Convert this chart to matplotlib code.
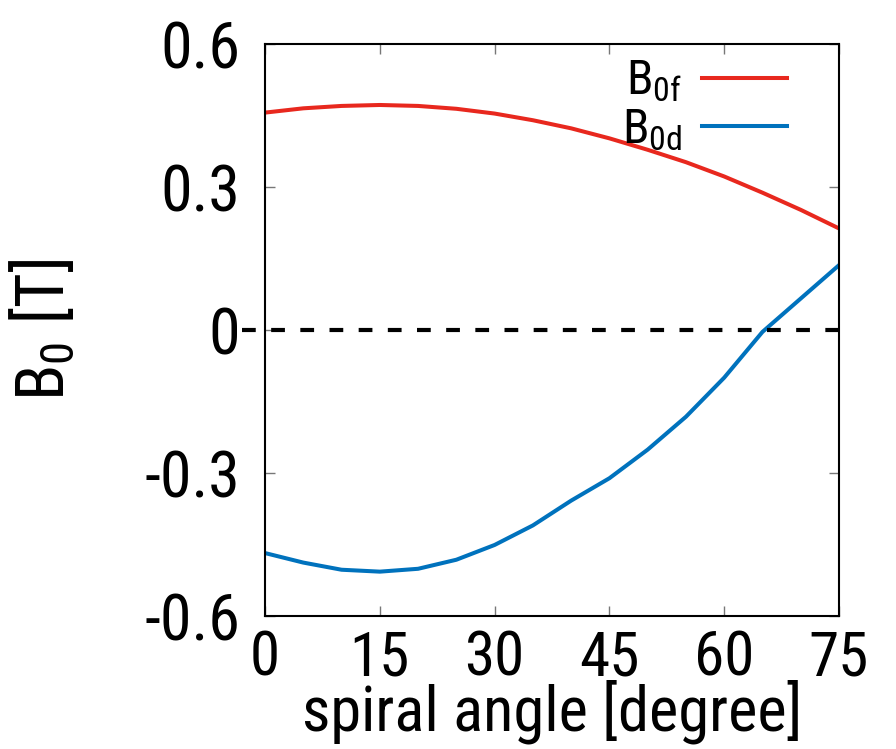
import matplotlib
matplotlib.use("Agg")
import matplotlib.pyplot as plt
from matplotlib import font_manager

angle = [0, 5, 10, 15, 20, 25, 30, 35, 40, 45, 50, 55, 60, 65, 70, 75]
b0f = [0.456, 0.465, 0.470, 0.472, 0.470, 0.464, 0.454, 0.440, 0.423, 0.402,
       0.378, 0.352, 0.322, 0.288, 0.252, 0.213]
b0d = [-0.468, -0.488, -0.503, -0.507, -0.501, -0.482, -0.451, -0.410, -0.358, -0.311,
       -0.251, -0.182, -0.100, -0.004, 0.066, 0.136]
xticks = [0, 15, 30, 45, 60, 75]
yticks = [-0.6, -0.3, 0, 0.3, 0.6]
ytick_labels = ["-0.6", "-0.3", "0", "0.3", "0.6"]

# use a narrow sans if one is installed, else Liberation Sans
names = {f.name for f in font_manager.fontManager.ttflist}
font = "Liberation Sans"
for cand in ["Liberation Sans Narrow", "Roboto Condensed", "Open Sans Condensed"]:
    if cand in names:
        font = cand
        break
plt.rcParams["font.family"] = [font, "DejaVu Sans"]
plt.rcParams["mathtext.fontset"] = "custom"
plt.rcParams["mathtext.rm"] = font
plt.rcParams["mathtext.it"] = font
plt.rcParams["mathtext.default"] = "rm"

fs = 46
fig = plt.figure(figsize=(8.96, 7.49), dpi=100)
ax = fig.add_axes([0.2958, 0.1776, 0.6406, 0.7637])

ax.plot(angle, b0f, color="#e8281e", lw=2.9, label=r"B$_{0f}$")
ax.plot(angle, b0d, color="#0072bd", lw=2.9, label=r"B$_{0d}$")
ax.axhline(0, xmin=-0.04, xmax=1.02, color="black", lw=3, ls=(0, (3.3, 3.7)), clip_on=False)

ax.set_xlim(0, 75)
ax.set_ylim(-0.6, 0.6)
ax.set_xticks(xticks)
ax.set_yticks(yticks)
ax.set_yticklabels(ytick_labels)
ax.tick_params(direction="in", length=7, width=1, color="#777777", labelsize=fs,
               top=True, right=True)
ax.tick_params(axis="y", pad=18)
ax.tick_params(axis="x", pad=10, labelsize=44)
for s in ax.spines.values():
    s.set_linewidth(1.5)

ax.set_xlabel("spiral angle [degree]", fontsize=45, labelpad=-6)
ax.set_ylabel(r"B$_0$ [T]", fontsize=48, labelpad=48)

ax.legend(loc="upper right", bbox_to_anchor=(0.935, 1.0), frameon=False, fontsize=35,
          markerfirst=False, handlelength=1.75, handletextpad=0.4, labelspacing=0.05,
          borderpad=0.3, borderaxespad=0)

fig.savefig("out.png", dpi=100)
